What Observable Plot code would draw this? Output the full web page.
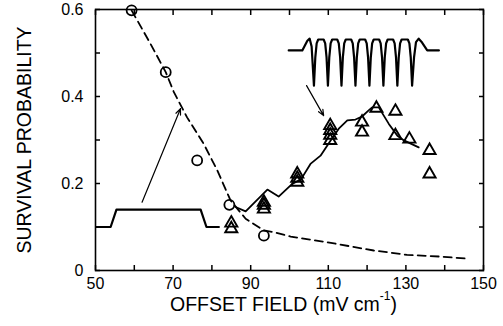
<!DOCTYPE html>
<html><head><meta charset="utf-8">
<script src="https://cdn.jsdelivr.net/npm/d3@7"></script>
<script src="https://cdn.jsdelivr.net/npm/@observablehq/plot@0.6"></script>
<style>
html,body{margin:0;padding:0;background:#fff;}
#chart{position:relative;width:503px;height:326px;font-family:'Liberation Sans',Arial,Helvetica,sans-serif;}
#xtitle{position:absolute;left:0;width:567px;text-align:center;top:295px;font-size:19.5px;line-height:19.5px;white-space:nowrap;color:#000;}
#xtitle span{font-size:12px;position:relative;top:-11px;}
</style></head><body><div id="chart"><div id="xtitle">OFFSET FIELD (mV cm<span>-1</span>)</div></div>
<script>
// ---- data ----
const xTicks = [50, 60, 70, 80, 90, 100, 110, 120, 130, 140, 150];
const xLabels = [50, 70, 90, 110, 130, 150];
const yTicks = [0, 0.1, 0.2, 0.3, 0.4, 0.5, 0.6];
const yLabels = [0, 0.2, 0.4, 0.6];
const yTitle = "SURVIVAL PROBABILITY";

const circleX = [59.3, 68.1, 76.2, 84.5, 93.4];
const circleY = [0.598, 0.456, 0.253, 0.151, 0.080];

const triX = [85, 85, 93.4, 93.4, 93.4, 102, 102, 102, 110.5, 110.5, 110.5, 110.5, 118.7, 118.7, 122.4, 127.3, 127.3, 130.9, 136.1, 136.1];
const triY = [0.109, 0.096, 0.157, 0.150, 0.141, 0.222, 0.212, 0.203, 0.333, 0.322, 0.311, 0.299, 0.341, 0.318, 0.373, 0.366, 0.310, 0.302, 0.276, 0.222];

const dashX = [59.3, 64, 68.1, 70.2, 73.6, 77.9, 81.4, 84.8, 88.7, 93.4, 96, 100.3, 109.7, 121.7, 130.3, 138.9, 146.4];
const dashY = [0.598, 0.524, 0.456, 0.41, 0.352, 0.291, 0.23, 0.161, 0.119, 0.092, 0.088, 0.078, 0.065, 0.046, 0.036, 0.032, 0.027];

const solidX = [86.1, 88.7, 94.3, 97.2, 100.7, 103.0, 105.4, 108.0, 110.6, 112.7, 114.9, 117.0, 118.7, 120.4, 121.3, 123.0, 125.6, 127.8, 129.5, 133.3];
const solidY = [0.146, 0.136, 0.186, 0.170, 0.199, 0.210, 0.245, 0.264, 0.299, 0.326, 0.345, 0.347, 0.354, 0.368, 0.375, 0.375, 0.337, 0.310, 0.299, 0.283];

// inset: single pulse (lower left)
const pulseX = [50.2, 53.9, 55.4, 77.1, 78.6, 81.8];
const pulseY = [0.1, 0.1, 0.14, 0.14, 0.1, 0.1];

// inset: oscillating field (upper right)
const waveLeadX = [99.8, 103.3, 104.6, 105.2, 105.7];
const waveLeadY = [0.506, 0.506, 0.528, 0.533, 0.515];
const waveDips = [106.3, 109.9, 113.4, 117.0, 120.6, 124.2, 127.8, 131.6];
const waveArmDx = [0.35, 0.7, 1.1];
const waveArmY = [0.49, 0.522, 0.531];
const waveBottom = 0.425;
const waveTailX = [132.1, 132.6, 133.3, 134.0, 135.5, 138.5];
const waveTailY = [0.49, 0.525, 0.533, 0.526, 0.506, 0.506];

// arrows
const arrowX1 = [62, 104.4];
const arrowY1 = [0.157, 0.425];
const arrowX2 = [71.9, 108.8];
const arrowY2 = [0.372, 0.356];

// ---- build tables ----
const zip = (xs, ys) => xs.map((x, i) => ({x, y: ys[i]}));
const circles = zip(circleX, circleY);
const triangles = zip(triX, triY);
const dashed = zip(dashX, dashY);
const solid = zip(solidX, solidY);
const pulse = zip(pulseX, pulseY);
const wave = zip(waveLeadX, waveLeadY);
waveDips.forEach((d, k) => {
  if (k > 0) {
    for (let j = waveArmDx.length - 1; j >= 0; j--) wave.push({x: d - waveArmDx[j], y: waveArmY[j]});
  }
  wave.push({x: d, y: waveBottom});
  if (k < waveDips.length - 1) {
    for (let j = 0; j < waveArmDx.length; j++) wave.push({x: d + waveArmDx[j], y: waveArmY[j]});
  }
});
zip(waveTailX, waveTailY).forEach(p => wave.push(p));
const arrows = arrowX1.map((x1, i) => ({x1, y1: arrowY1[i], x2: arrowX2[i], y2: arrowY2[i]}));

const near = (arr, v) => arr.some(a => Math.abs(a - v) < 1e-9);

const chart = Plot.plot({
  width: 503, height: 326,
  marginLeft: 95, marginRight: 20, marginTop: 9, marginBottom: 56,
  style: {fontFamily: "'Liberation Sans', Arial, Helvetica, sans-serif", fontSize: "15px", color: "black", background: "white", overflow: "visible"},
  x: {domain: [50, 150]},
  y: {domain: [0, 0.6]},
  marks: [
    Plot.axisX({ticks: xTicks, tickSize: -5, tickPadding: 12, strokeWidth: 1.5, fontSize: 16, label: null,
      tickFormat: d => near(xLabels, d) ? String(d) : ""}),
    Plot.axisX({anchor: "top", ticks: xTicks, tickSize: -5, strokeWidth: 1.5, label: null, tickFormat: () => ""}),
    Plot.axisY({ticks: yTicks, tickSize: -5, tickPadding: 17, strokeWidth: 1.5, fontSize: 16, label: null,
      tickFormat: d => near(yLabels, d) ? (d === 0 ? "0" : d3.format(".1f")(d)) : ""}),
    Plot.axisY({anchor: "right", ticks: yTicks, tickSize: -5, strokeWidth: 1.5, label: null, tickFormat: () => ""}),
    Plot.frame({stroke: "black", strokeWidth: 1.6}),
    Plot.text([yTitle], {frameAnchor: "left", text: d => d, rotate: -90, dx: -71, fontSize: 19.5, textAnchor: "middle"}),
    Plot.line(dashed, {x: "x", y: "y", stroke: "black", strokeWidth: 1.8, strokeDasharray: "8,5"}),
    Plot.line(solid, {x: "x", y: "y", stroke: "black", strokeWidth: 1.8}),
    Plot.line(pulse, {x: "x", y: "y", stroke: "black", strokeWidth: 2.2}),
    Plot.line(wave, {x: "x", y: "y", stroke: "black", strokeWidth: 2.2}),
    Plot.arrow(arrows, {x1: "x1", y1: "y1", x2: "x2", y2: "y2", stroke: "black", strokeWidth: 1.2, headLength: 8, headAngle: 45}),
    Plot.dot(circles, {x: "x", y: "y", r: 5, stroke: "black", strokeWidth: 1.8, fill: "none"}),
    Plot.dot(triangles, {x: "x", y: "y", symbol: "triangle", r: 4.5, stroke: "black", strokeWidth: 1.9, fill: "none"})
  ]
});
document.getElementById("chart").prepend(chart);
</script>
</body></html>
